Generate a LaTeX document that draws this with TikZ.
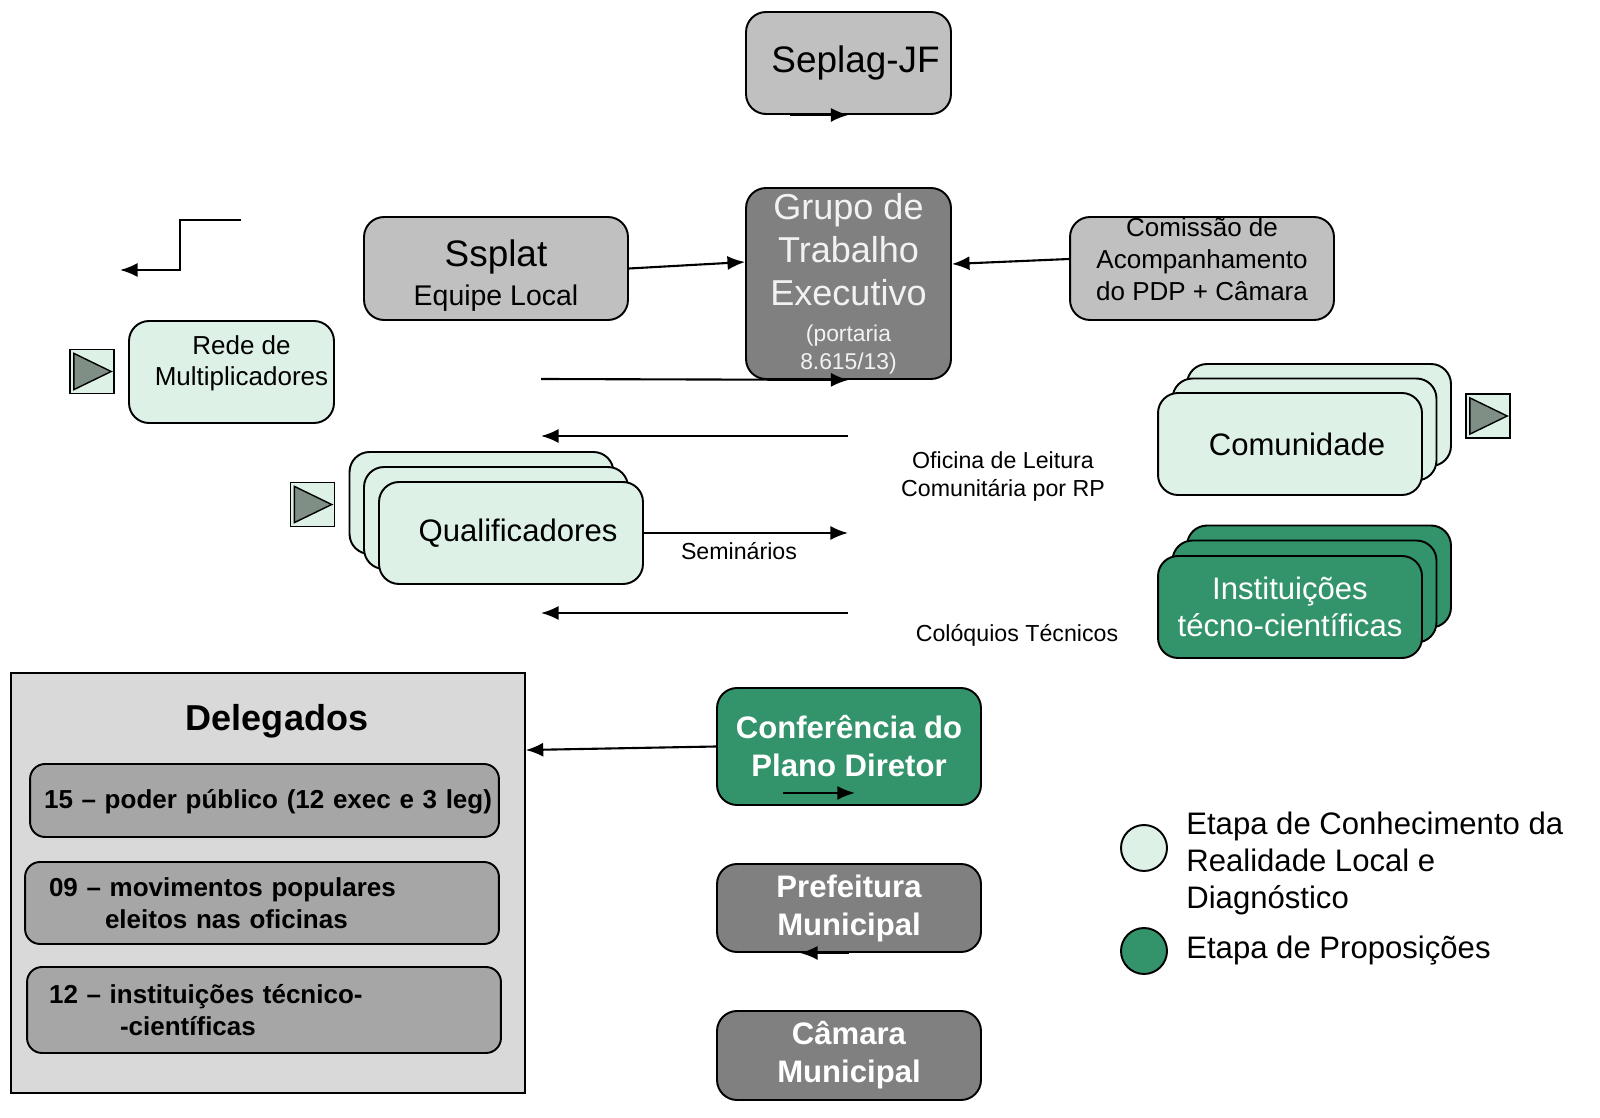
\documentclass[tikz,border=0pt]{standalone}
\usepackage{fontspec}
\setmainfont{Liberation Sans}
\usetikzlibrary{positioning, arrows.meta}

\definecolor{mint}{RGB}{221,241,231}
\definecolor{pgreen}{RGB}{51,148,108}
\definecolor{lgray}{RGB}{192,192,192}
\definecolor{dgray}{RGB}{128,128,128}
\definecolor{pale}{RGB}{217,217,217}
\definecolor{mgray}{RGB}{166,166,166}
\definecolor{playtri}{RGB}{127,143,133}
\definecolor{txtlight}{RGB}{242,242,242}

\tikzset{
  box/.style={draw, line width=1.1pt, rounded corners=0.4cm, align=center, inner sep=0pt,
    minimum width=5.28cm, minimum height=2.06cm},
  stackbox/.style={box, minimum height=2.04cm},
  item/.style={draw, line width=1.1pt, fill=mgray, rounded corners=0.3cm, align=left, inner ysep=0pt,
    font=\bfseries\fontsize{14.8}{18.2}\selectfont},
  playbtn/.style={draw, line width=0.8pt, fill=mint, minimum size=0.88cm, inner sep=0pt},
  playtip/.style={draw, line width=0.8pt, fill=playtri},
  lbl/.style={inner sep=0pt, align=center, font=\fontsize{13.2}{16.5}\selectfont},
  legdot/.style={circle, draw, line width=1.1pt, minimum size=0.92cm, inner sep=0pt},
  legtxt/.style={inner sep=0pt, align=left, font=\fontsize{17.7}{21.3}\selectfont},
  conn/.style={-{Latex[length=10pt,width=8pt]}, line width=1.2pt}
}

\begin{document}
\begin{tikzpicture}[x=0.02cm, y=-0.02cm]
  \useasboundingbox (0,0) rectangle (1600,1118);

  % coordenacao
  \node[box, fill=lgray, minimum width=4.1cm, minimum height=2.04cm,
    font=\fontsize{21}{25}\selectfont] (seplag) at (848.5,63) {\hspace*{0.28cm}Seplag-JF};
  \node[box, fill=dgray, text=txtlight, minimum width=4.1cm, minimum height=3.82cm,
    font=\fontsize{20.5}{24.5}\selectfont] (grupo) at (848.5,283.5)
    {Grupo de\\Trabalho\\Executivo\\[-4pt]{\fontsize{13}{16}\selectfont (portaria}\\[-8.5pt]{\fontsize{13}{16}\selectfont 8.615/13)}};
  \node[box, fill=lgray, font=\fontsize{21}{22}\selectfont, text height=45.3pt] (ssplat) at (496,268.5)
    {Ssplat\\{\fontsize{16.2}{19}\selectfont Equipe Local}};
  \node[box, fill=lgray, font=\fontsize{14.8}{18.2}\selectfont, text depth=0.37cm] (comissao) at (1202,268.5)
    {Comiss\~ao de\\Acompanhamento\\do PDP + C\^amara};
  \node[box, fill=mint, minimum width=4.1cm, minimum height=2.04cm, text depth=0.45cm,
    font=\fontsize{14.8}{17.6}\selectfont] (rede) at (231.5,372) {\hspace*{0.4cm}Rede de\\\hspace*{0.4cm}Multiplicadores};

  % pilhas
  \node[stackbox, fill=mint] (qback) at (481.5,503) {};
  \node[stackbox, fill=mint] (qmid) at (496,518) {};
  \node[stackbox, fill=mint, font=\fontsize{17.7}{21}\selectfont] (qual) at (511,533) {\hspace*{0.28cm}Qualificadores};
  \node[stackbox, fill=mint] (cback) at (1319,415) {};
  \node[stackbox, fill=mint] (cmid) at (1304.5,429.5) {};
  \node[stackbox, fill=mint, font=\fontsize{17.7}{21}\selectfont] (comunidade) at (1290,444) {\hspace*{0.28cm}Comunidade};
  \node[stackbox, fill=pgreen] (iback) at (1319,576.5) {};
  \node[stackbox, fill=pgreen] (imid) at (1304.5,591.5) {};
  \node[stackbox, fill=pgreen, text=white, font=\fontsize{17.7}{21}\selectfont] (inst) at (1290,607)
    {Institui\c{c}\~oes\\t\'ecno-cient\'ificas};

  \node[playbtn] (playR) at (92,371.5) {};
  \node[playbtn] (playQ) at (312.5,504.5) {};
  \node[playbtn] (playC) at (1488,416) {};
  \draw[playtip] ([shift={(2.6pt,-2.6pt)}]playR.north west) -- ([shift={(2.6pt,2.6pt)}]playR.south west)
    -- ([xshift=-2pt]playR.east) -- cycle;
  \draw[playtip] ([shift={(2.6pt,-2.6pt)}]playQ.north west) -- ([shift={(2.6pt,2.6pt)}]playQ.south west)
    -- ([xshift=-2pt]playQ.east) -- cycle;
  \draw[playtip] ([shift={(2.6pt,-2.6pt)}]playC.north west) -- ([shift={(2.6pt,2.6pt)}]playC.south west)
    -- ([xshift=-2pt]playC.east) -- cycle;

  % conferencia
  \node[box, fill=pgreen, text=white, minimum height=2.34cm,
    font=\bfseries\fontsize{17.7}{21.6}\selectfont] (conf) at (849,746.5) {Confer\^encia do\\Plano Diretor};
  \node[box, fill=dgray, text=white, minimum height=1.76cm,
    font=\bfseries\fontsize{17.7}{21.6}\selectfont] (pref) at (849,908) {Prefeitura\\Municipal};
  \node[box, fill=dgray, text=white, minimum height=1.78cm,
    font=\bfseries\fontsize{17.7}{21.6}\selectfont] (camara) at (849,1055.5) {C\^amara\\Municipal};

  % delegados
  \node[draw, line width=0.8pt, fill=pale, minimum width=10.28cm, minimum height=8.4cm] (deleg) at (268,883) {};
  \node[font=\bfseries\fontsize{20.5}{24}\selectfont] (delegT) at (277,721) {Delegados};
  \node[item, minimum height=1.46cm, inner xsep=0.28cm, text width=8.82cm, text height=0.42cm] (d15) at (264.5,800.5)
    {\mbox{15 -- poder p\'ublico (12 exec e 3 leg)}};
  \node[item, minimum height=1.64cm, inner xsep=0.48cm, text width=8.52cm] (d09) at (262,903)
    {09 -- movimentos populares\\\hspace*{1.12cm}eleitos nas oficinas};
  \node[item, minimum height=1.72cm, inner xsep=0.44cm, text width=8.6cm] (d12) at (264,1010)
    {12 -- institui\c{c}\~oes t\'ecnico-\\\hspace*{1.42cm}-cient\'ificas};

  % rotulos
  \node[lbl] (seminarios) at (739,551) {Semin\'arios};
  \node[lbl] (oficina) at (1003,476.5) {Oficina de Leitura\\Comunit\'aria por RP};
  \node[lbl] (coloquios) at (1017,635) {Col\'oquios T\'ecnicos};

  % legenda
  \node[legdot, fill=mint] (legA) at (1144,848) {};
  \node[legtxt, anchor=west] (legAtxt) at (1186,863.5) {Etapa de Conhecimento da\\Realidade Local e\\Diagn\'ostico};
  \node[legdot, fill=pgreen] (legB) at (1144,951) {};
  \node[legtxt, anchor=west] (legBtxt) at (1186,951) {Etapa de Proposi\c{c}\~oes};

  % conectores
  \coordinate (stepA) at (241,220);
  \coordinate (stepB) at (120,270);
  \coordinate (gtA) at (541,379);
  \coordinate (gtB) at (848,436);
  \coordinate (gtC) at (541,436);
  \coordinate (semEnd) at (848,533);
  \coordinate (colA) at (848,613);
  \coordinate (colB) at (541,613);

  \draw[conn] ([xshift=-1.17cm]seplag.south) -- (seplag.south);
  \draw[conn] (ssplat.east) -- ([yshift=0.43cm]grupo.west);
  \draw[conn] ([yshift=0.19cm]comissao.west) -- ([yshift=0.39cm]grupo.east);
  \draw[conn] (stepA) -| (180,245) |- (stepB);
  \draw[conn] (gtA) -- (grupo.south);
  \draw[conn] (gtB) -- (gtC);
  \draw[conn] (qual.east) -- (semEnd);
  \draw[conn] (colA) -- (colB);
  \draw[conn] (conf.west) -- ([yshift=2.66cm]deleg.east);
  \draw[conn] ([xshift=-1.32cm,yshift=0.26cm]conf.south) -- ([xshift=0.12cm,yshift=0.26cm]conf.south);
  \draw[conn] (pref.south) -- ([xshift=-0.98cm]pref.south);
\end{tikzpicture}
\end{document}
